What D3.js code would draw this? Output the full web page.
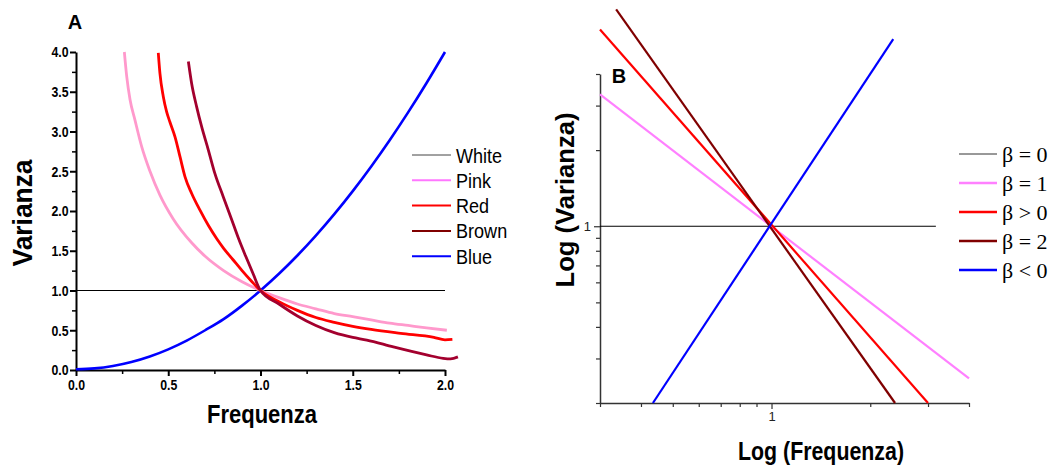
<!DOCTYPE html>
<html>
<head>
<meta charset="utf-8">
<script src="https://cdn.jsdelivr.net/npm/d3@7"></script>
<style>
  body { margin: 0; background: #fff; }
  svg { display: block; }
  .narrow { font-family: "Liberation Sans Narrow", "Liberation Sans", Arial, sans-serif; }
</style>
</head>
<body>
<div id="chart-area"></div>
<script>
// ---- panel A data ----
const aTicks = [0, 0.5, 1.0, 1.5, 2.0];
const aYTicks = [0, 0.5, 1.0, 1.5, 2.0, 2.5, 3.0, 3.5, 4.0];
const aMinorX = [0.25, 0.75, 1.25, 1.75];
const aMinorY = [0.25, 0.75, 1.25, 1.75, 2.25, 2.75, 3.25, 3.75];

const whiteA = [[0, 1.0], [2.0, 1.0]];
const pinkA = [[0.262, 4.0], [0.275, 3.69], [0.293, 3.40], [0.32, 3.14], [0.356, 2.81], [0.401, 2.5],
  [0.455, 2.2], [0.527, 1.9], [0.627, 1.6], [0.7, 1.43], [0.8, 1.25], [0.9, 1.11], [1.0, 1.0],
  [1.1, 0.91], [1.2, 0.83], [1.3, 0.77], [1.4, 0.71], [1.5, 0.67], [1.6, 0.63], [1.7, 0.59],
  [1.8, 0.56], [1.9, 0.53], [2.01, 0.5]];
const redA = [[0.446, 3.99], [0.455, 3.73], [0.473, 3.44], [0.491, 3.25], [0.509, 3.12], [0.537, 2.93],
  [0.564, 2.68], [0.591, 2.43], [0.627, 2.22], [0.672, 2.01], [0.717, 1.82], [0.763, 1.65],
  [0.8, 1.53], [0.85, 1.39], [0.9, 1.25], [0.95, 1.12], [1.0, 1.0], [1.1, 0.86], [1.2, 0.75], [1.3, 0.66],
  [1.4, 0.6], [1.5, 0.55], [1.6, 0.51], [1.76, 0.46], [1.94, 0.41], [2.0, 0.38], [2.04, 0.385]];
const brownA = [[0.609, 3.88], [0.627, 3.60], [0.654, 3.31], [0.681, 3.06], [0.717, 2.77], [0.753, 2.47],
  [0.798, 2.18], [0.844, 1.89], [0.88, 1.66], [0.92, 1.43], [0.96, 1.21], [1.0, 1.0], [1.1, 0.83],
  [1.2, 0.68], [1.3, 0.56], [1.4, 0.47], [1.5, 0.41], [1.576, 0.377], [1.72, 0.29], [1.9, 0.19],
  [1.99, 0.147], [2.03, 0.14], [2.07, 0.165]];
const blueA = [[0, 0.01], [0.1, 0.02], [0.2, 0.05], [0.3, 0.1], [0.4, 0.17], [0.5, 0.26], [0.6, 0.37],
  [0.7, 0.5], [0.8, 0.64], [0.9, 0.81], [1.0, 1.0], [1.1, 1.21], [1.2, 1.44], [1.3, 1.69], [1.4, 1.96],
  [1.5, 2.25], [1.6, 2.56], [1.7, 2.89], [1.8, 3.24], [1.9, 3.61], [2.0, 4.0]];

const legendA = ["White", "Pink", "Red", "Brown", "Blue"];
const legendAColors = ["#444", "#ff77ff", "#ff0000", "#800000", "#0000ff"];

// ---- panel B data (log-log) ----
const bXMinor = [0.3, 0.4, 0.5, 0.6, 0.7, 0.8, 0.9, 2, 3, 4];
const bYMinor = [0.2, 0.3, 0.4, 0.5, 0.6, 0.7, 0.8, 0.9, 2, 3, 4];
const bMajor = [1];

const whiteB = [[0.3, 1], [3.17, 1]];
const pinkB = [[0.3, 3.32], [4.0, 0.25]];
const redB = [[0.3, 6.0], [3.0, 0.2]];
const brownB = [[0.336, 7.2], [2.38, 0.2]];
const blueB = [[0.435, 0.2], [2.35, 5.5]];

const legendB = ["β = 0", "β = 1", "β > 0", "β = 2", "β < 0"];
const legendBColors = ["#333", "#ff80ff", "#ff0000", "#800000", "#0000ff"];

const svg = d3.select("#chart-area").append("svg")
  .attr("width", 1052).attr("height", 467);

// ================= Panel A =================
const xA = d3.scaleLinear().domain([0, 2]).range([76, 445]);
const yA = d3.scaleLinear().domain([0, 4]).range([370, 52]);

const gA = svg.append("g");

// minor ticks
gA.append("g").attr("transform", "translate(0,370)")
  .call(d3.axisBottom(xA).tickValues(aMinorX).tickSize(4).tickSizeOuter(0).tickFormat(""))
  .call(g => g.select(".domain").remove())
  .selectAll("line").attr("stroke-width", 1.5);
gA.append("g").attr("transform", "translate(76,0)")
  .call(d3.axisLeft(yA).tickValues(aMinorY).tickSize(4).tickSizeOuter(0).tickFormat(""))
  .call(g => g.select(".domain").remove())
  .selectAll("line").attr("stroke-width", 1.5);

const axA = gA.append("g").attr("transform", "translate(0,370)")
  .call(d3.axisBottom(xA).tickValues(aTicks).tickSize(6).tickSizeOuter(0).tickFormat(d3.format(".1f")));
const ayA = gA.append("g").attr("transform", "translate(76,0)")
  .call(d3.axisLeft(yA).tickValues(aYTicks).tickSize(6).tickSizeOuter(0).tickFormat(d3.format(".1f")));
[axA, ayA].forEach(ax => {
  ax.select(".domain").attr("stroke-width", 2);
  ax.selectAll("line").attr("stroke-width", 2);
  ax.selectAll("text").attr("class", "narrow").style("font-size", "15px").style("font-weight", "bold")
    .attr("fill", "#000").attr("transform", "scale(0.82,1)");
});

const lineA = d3.line().x(d => xA(d[0])).y(d => yA(d[1])).curve(d3.curveMonotoneX);

gA.append("path").datum(whiteA).attr("d", lineA).attr("fill", "none").attr("stroke", "#000").attr("stroke-width", 1.2);
gA.append("path").datum(blueA).attr("d", lineA).attr("fill", "none").attr("stroke", "#0000ff").attr("stroke-width", 2.6);
gA.append("path").datum(pinkA).attr("d", lineA).attr("fill", "none").attr("stroke", "#ff99cc").attr("stroke-width", 2.8);
gA.append("path").datum(redA).attr("d", lineA).attr("fill", "none").attr("stroke", "#ff0000").attr("stroke-width", 2.8);
gA.append("path").datum(brownA).attr("d", lineA).attr("fill", "none").attr("stroke", "#a3002e").attr("stroke-width", 2.8);

// legend A
legendA.forEach((name, i) => {
  const y = 155 + i * 25.3;
  gA.append("line").attr("x1", 412).attr("x2", 451).attr("y1", y).attr("y2", y)
    .attr("stroke", legendAColors[i]).attr("stroke-width", i === 0 ? 1 : 2);
  gA.append("text").attr("class", "narrow").attr("transform", `translate(456,${y}) scale(0.86,1)`)
    .attr("dy", "0.36em").style("font-size", "21px").text(name);
});

gA.append("text").attr("class", "narrow").attr("x", 75).attr("y", 29).attr("text-anchor", "middle")
  .style("font-size", "20px").style("font-weight", "bold").text("A");

gA.append("text").attr("class", "narrow").attr("x", 262).attr("y", 423).attr("text-anchor", "middle")
  .attr("textLength", 110).attr("lengthAdjust", "spacingAndGlyphs")
  .style("font-size", "25px").style("font-weight", "bold").text("Frequenza");

gA.append("text").attr("class", "narrow").attr("transform", "translate(32,213) rotate(-90)")
  .attr("text-anchor", "middle").attr("textLength", 107).attr("lengthAdjust", "spacingAndGlyphs")
  .style("font-size", "28px").style("font-weight", "bold").text("Varianza");

// ================= Panel B =================
const xB = d3.scaleLog().domain([0.3, 4]).range([600, 969]);
const yB = d3.scaleLog().domain([0.2, 4]).range([403, 74]);

const gB = svg.append("g");

gB.append("g").attr("transform", "translate(0,403)")
  .call(d3.axisBottom(xB).tickValues(bXMinor).tickSize(4).tickSizeOuter(0).tickFormat(""))
  .call(g => g.select(".domain").attr("stroke", "#333").attr("stroke-width", 1.5))
  .selectAll("line").attr("stroke", "#333").attr("stroke-width", 1.2);
gB.append("g").attr("transform", "translate(600,0)")
  .call(d3.axisLeft(yB).tickValues(bYMinor).tickSize(4).tickSizeOuter(0).tickFormat(""))
  .call(g => g.select(".domain").attr("stroke", "#333").attr("stroke-width", 1.5))
  .selectAll("line").attr("stroke", "#333").attr("stroke-width", 1.2);

[
  gB.append("g").attr("transform", "translate(0,403)")
    .call(d3.axisBottom(xB).tickValues(bMajor).tickSize(6).tickSizeOuter(0).tickFormat(d3.format("d"))),
  gB.append("g").attr("transform", "translate(600,0)")
    .call(d3.axisLeft(yB).tickValues(bMajor).tickSize(6).tickSizeOuter(0).tickFormat(d3.format("d")))
].forEach(ax => {
  ax.select(".domain").remove();
  ax.selectAll("line").attr("stroke", "#333").attr("stroke-width", 1.2);
  ax.selectAll("text").attr("class", "narrow").style("font-size", "13px").attr("fill", "#222");
});

const lineB = d3.line().x(d => xB(d[0])).y(d => yB(d[1]));

gB.append("path").datum(whiteB).attr("d", lineB).attr("fill", "none").attr("stroke", "#000").attr("stroke-width", 1.2);
gB.append("path").datum(pinkB).attr("d", lineB).attr("fill", "none").attr("stroke", "#ff80ff").attr("stroke-width", 2.2);
gB.append("path").datum(redB).attr("d", lineB).attr("fill", "none").attr("stroke", "#ff0000").attr("stroke-width", 2.2);
gB.append("path").datum(brownB).attr("d", lineB).attr("fill", "none").attr("stroke", "#800000").attr("stroke-width", 2.2);
gB.append("path").datum(blueB).attr("d", lineB).attr("fill", "none").attr("stroke", "#0000ff").attr("stroke-width", 2.2);

// legend B
legendB.forEach((name, i) => {
  const y = 154 + i * 29;
  gB.append("line").attr("x1", 959).attr("x2", 997).attr("y1", y).attr("y2", y)
    .attr("stroke", legendBColors[i]).attr("stroke-width", i === 0 ? 1 : 2.5);
  gB.append("text").attr("x", 1002).attr("y", y).attr("dy", "0.35em")
    .style("font-family", "'Liberation Serif', 'Times New Roman', serif").style("font-size", "22px")
    .text(name);
});

gB.append("text").attr("class", "narrow").attr("x", 619).attr("y", 83).attr("text-anchor", "middle")
  .style("font-size", "20px").style("font-weight", "bold").text("B");

gB.append("text").attr("class", "narrow").attr("x", 821).attr("y", 460).attr("text-anchor", "middle")
  .attr("textLength", 166).attr("lengthAdjust", "spacingAndGlyphs")
  .style("font-size", "25px").style("font-weight", "bold").text("Log (Frequenza)");

gB.append("text").attr("class", "narrow").attr("transform", "translate(574,200) rotate(-90)")
  .attr("text-anchor", "middle").attr("textLength", 175).attr("lengthAdjust", "spacingAndGlyphs")
  .style("font-size", "25px").style("font-weight", "bold").text("Log (Varianza)");
</script>
</body>
</html>
